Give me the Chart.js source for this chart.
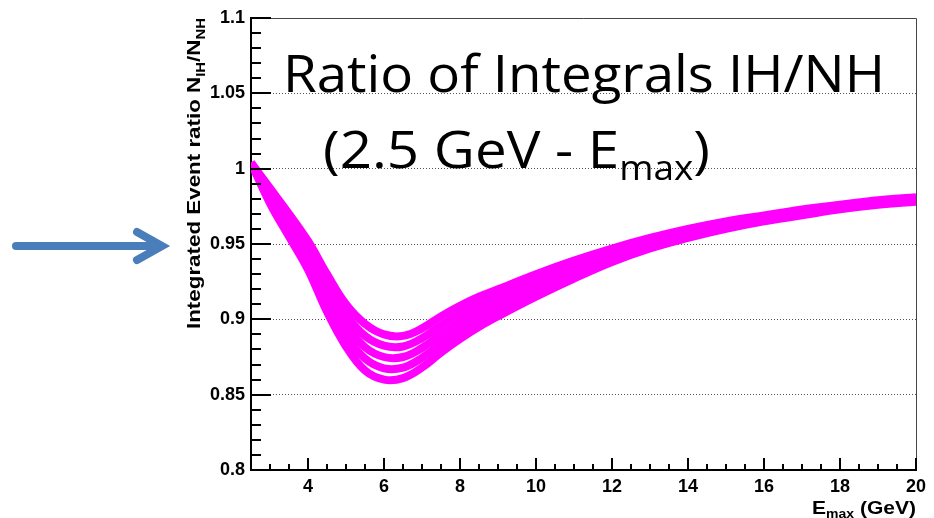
<!DOCTYPE html>
<html>
<head>
<meta charset="utf-8">
<script src="https://cdn.jsdelivr.net/npm/chart.js"></script>
<style>
  body { margin: 0; background: #fff; }
  #chart-ratio { display: block; }
</style>
</head>
<body>
<canvas id="chart-ratio" width="934" height="518"></canvas>
<script>
// E_max values (GeV)
const emax = [2.5, 3, 3.5, 4, 4.5, 5, 5.5, 6, 6.5, 7, 7.5, 8, 8.5, 9, 10, 11, 12, 13, 14, 15, 16, 17, 18, 19, 20];

// integrated event ratio IH/NH, one array per curve
const ratioA = [1.004, 0.987, 0.970, 0.952, 0.930, 0.910, 0.897, 0.890, 0.889, 0.894, 0.902, 0.909, 0.915, 0.920, 0.930, 0.939, 0.947, 0.954, 0.960, 0.965, 0.969, 0.973, 0.976, 0.979, 0.981];
const ratioB = [1.004, 0.9845, 0.966, 0.947, 0.924, 0.903, 0.889, 0.8825, 0.882, 0.8875, 0.896, 0.9035, 0.910, 0.9155, 0.9265, 0.936, 0.9445, 0.952, 0.9585, 0.9638, 0.968, 0.972, 0.9755, 0.9783, 0.9805];
const ratioC = [1.004, 0.982, 0.9625, 0.9425, 0.9175, 0.896, 0.8815, 0.875, 0.875, 0.881, 0.890, 0.898, 0.905, 0.911, 0.9225, 0.933, 0.9425, 0.9505, 0.957, 0.9625, 0.967, 0.971, 0.9745, 0.9775, 0.9795];
const ratioD = [1.004, 0.9795, 0.959, 0.938, 0.911, 0.889, 0.874, 0.8675, 0.868, 0.8745, 0.884, 0.8925, 0.900, 0.9065, 0.919, 0.930, 0.940, 0.9485, 0.9555, 0.9612, 0.966, 0.970, 0.9738, 0.9768, 0.9788];
const ratioE = [1.004, 0.977, 0.955, 0.933, 0.905, 0.882, 0.866, 0.860, 0.861, 0.868, 0.878, 0.887, 0.895, 0.902, 0.915, 0.927, 0.938, 0.947, 0.954, 0.960, 0.965, 0.969, 0.973, 0.976, 0.978];

const curves = [ratioA, ratioB, ratioC, ratioD, ratioE];

const xTicks = [4, 6, 8, 10, 12, 14, 16, 18, 20];
const yTicks = [0.8, 0.85, 0.9, 0.95, 1.0, 1.05, 1.1];
const xMinorStep = 0.5;
const yMinorStep = 0.01;

const magenta = "#ff00ff";
const tickFont = { family: "'Liberation Sans', Arial, sans-serif", size: 18, weight: "bold" };

// draw a row of text pieces (for sub-scripts), squeezed to a given width
function drawParts(ctx, parts, x, y, width) {
  ctx.save();
  let total = 0;
  parts.forEach(function (p) {
    ctx.font = p.font;
    p.w = ctx.measureText(p.t).width;
    total += p.w;
  });
  const k = width ? width / total : 1;
  ctx.translate(x, y);
  ctx.scale(k, 1);
  let cx = 0;
  parts.forEach(function (p) {
    ctx.font = p.font;
    ctx.fillText(p.t, cx, p.dy || 0);
    cx += p.w;
  });
  ctx.restore();
}

const decorations = {
  id: "decorations",
  afterDraw(chart) {
    const ctx = chart.ctx;
    const x = chart.scales.x;
    const y = chart.scales.y;
    const a = chart.chartArea;

    ctx.save();
    ctx.fillStyle = "#000";
    ctx.textBaseline = "alphabetic";

    // frame (top and right)
    ctx.strokeStyle = "#444";
    ctx.lineWidth = 1;
    ctx.beginPath();
    ctx.moveTo(a.left, a.top + 0.5);
    ctx.lineTo(a.right + 0.5, a.top + 0.5);
    ctx.lineTo(a.right + 0.5, a.bottom);
    ctx.stroke();

    // ticks pointing into the plot
    ctx.strokeStyle = "#000";
    ctx.lineWidth = 2;
    ctx.beginPath();
    for (let v = 2.5; v <= 20.001; v += xMinorStep) {
      const px = Math.round(x.getPixelForValue(v));
      const major = Math.abs(v / 2 - Math.round(v / 2)) < 1e-6;
      ctx.moveTo(px, a.bottom);
      ctx.lineTo(px, a.bottom - (major ? 12 : 6));
    }
    for (let v = 0.8; v <= 1.1001; v += yMinorStep) {
      const py = Math.round(y.getPixelForValue(v));
      const major = Math.abs(v / 0.05 - Math.round(v / 0.05)) < 1e-6;
      ctx.moveTo(a.left, py);
      ctx.lineTo(a.left + (major ? 20 : 10), py);
    }
    ctx.stroke();

    // big annotation
    const big = "52px 'Open Sans', sans-serif";
    const sub = "34px 'Open Sans', sans-serif";
    drawParts(ctx, [{ t: "Ratio of Integrals IH/NH", font: big }], 283, 92, 602);
    drawParts(ctx, [
      { t: "(2.5 GeV - ", font: big },
      { t: "E", font: big },
      { t: "max", font: sub, dy: 12 },
      { t: ")", font: big },
    ], 323, 168, 387);

    // y axis title
    const lab = "bold 18px 'Liberation Sans', Arial, sans-serif";
    const labSub = "bold 12px 'Liberation Sans', Arial, sans-serif";
    ctx.save();
    ctx.translate(200, 329);
    ctx.rotate(-Math.PI / 2);
    drawParts(ctx, [
      { t: "Integrated Event ratio N", font: lab },
      { t: "IH", font: labSub, dy: 5 },
      { t: "/N", font: lab },
      { t: "NH", font: labSub, dy: 5 },
    ], 0, 0, 311);
    ctx.restore();

    // x axis title
    drawParts(ctx, [
      { t: "E", font: lab },
      { t: "max", font: labSub, dy: 4 },
      { t: " (GeV)", font: lab },
    ], 812, 514, 104);

    // blue arrow
    ctx.strokeStyle = "#4a7ebb";
    ctx.lineWidth = 8;
    ctx.lineCap = "round";
    ctx.lineJoin = "miter";
    ctx.beginPath();
    ctx.moveTo(16, 246);
    ctx.lineTo(160, 246);
    ctx.stroke();
    ctx.beginPath();
    ctx.moveTo(137, 232);
    ctx.lineTo(162, 246);
    ctx.lineTo(137, 260);
    ctx.stroke();

    ctx.restore();
  },
};

const ctx = document.getElementById("chart-ratio").getContext("2d");

function createChart() {
  return new Chart(ctx, {
    type: "line",
    data: {
      datasets: curves.map(function (c) {
        return {
          data: emax.map(function (e, i) {
            return { x: e, y: c[i] };
          }),
          borderColor: magenta,
          backgroundColor: magenta,
          borderWidth: 8,
          pointRadius: 0,
          tension: 0.4,
          fill: false,
        };
      }),
    },
    options: {
      responsive: false,
      animation: false,
      events: [],
      layout: {
        padding: { top: 18, right: 18, left: 0, bottom: 0 },
      },
      plugins: {
        legend: { display: false },
        tooltip: { enabled: false },
      },
      scales: {
        x: {
          type: "linear",
          min: 2.5,
          max: 20,
          afterFit: function (scale) {
            scale.height = 48;
          },
          afterBuildTicks: function (scale) {
            scale.ticks = xTicks.map(function (v) {
              return { value: v };
            });
          },
          ticks: {
            color: "#000",
            font: tickFont,
            padding: 6,
            maxRotation: 0,
            autoSkip: false,
          },
          grid: { display: false, drawTicks: false },
          border: { display: true, color: "#000", width: 2 },
        },
        y: {
          min: 0.8,
          max: 1.1,
          afterFit: function (scale) {
            scale.width = 251;
          },
          afterBuildTicks: function (scale) {
            scale.ticks = yTicks.map(function (v) {
              return { value: v };
            });
          },
          ticks: {
            color: "#000",
            font: tickFont,
            padding: 6,
            callback: function (value) {
              return String(Math.round(value * 100) / 100);
            },
          },
          grid: {
            drawTicks: false,
            color: function (c) {
              const v = c.tick ? c.tick.value : 0;
              return v < 0.81 || v > 1.09 ? "rgba(0,0,0,0)" : "#555";
            },
            lineWidth: 1,
          },
          border: { display: true, color: "#000", width: 2, dash: [1, 2] },
        },
      },
    },
    plugins: [decorations],
  });
}

window.addEventListener("load", createChart);
</script>
</body>
</html>
